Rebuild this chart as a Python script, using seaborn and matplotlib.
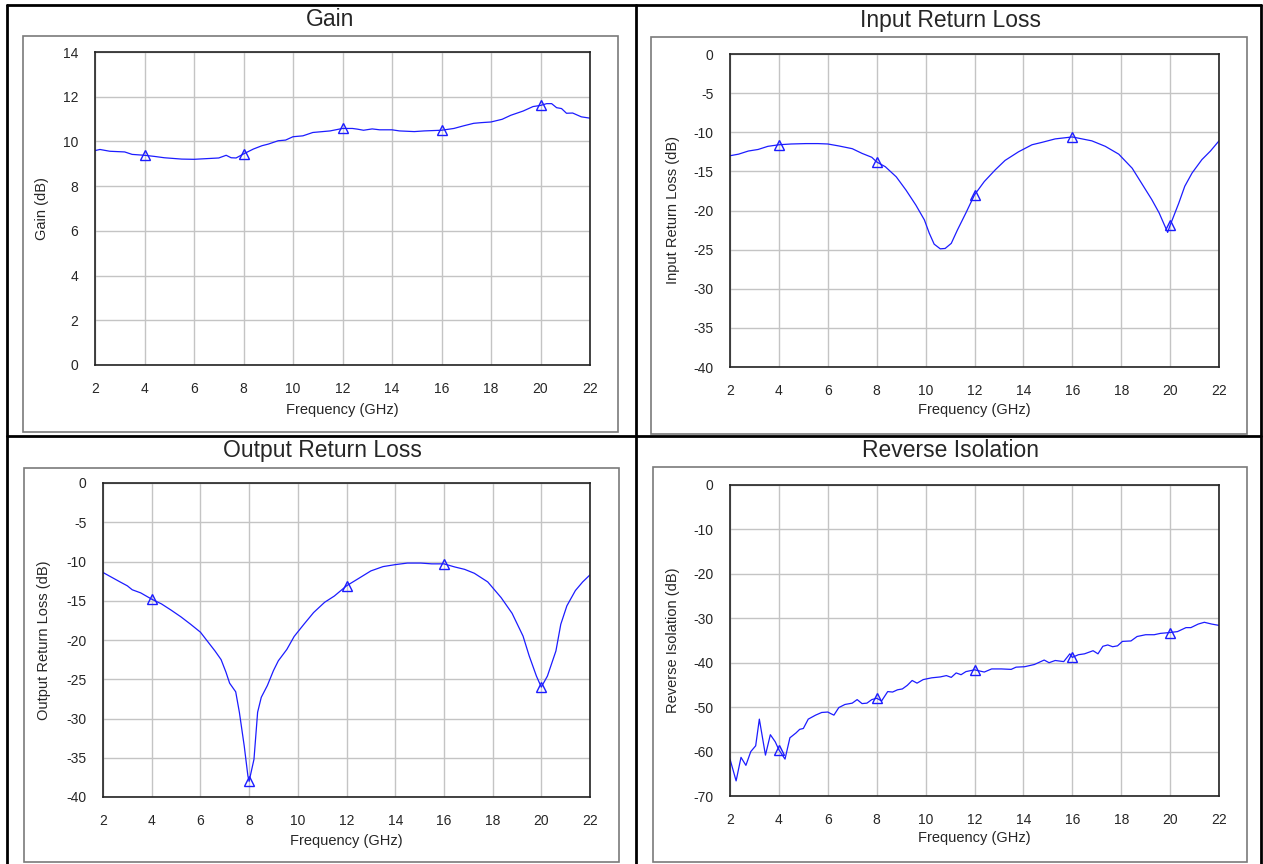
import numpy as np
import pandas as pd
import matplotlib
matplotlib.use("Agg")
import matplotlib.pyplot as plt
from matplotlib.lines import Line2D
from matplotlib.patches import Rectangle
import seaborn as sns

# ---------------- data ----------------
gain_freq = [2.0, 2.2, 2.6, 3.2, 3.5, 4.0, 4.4, 4.8, 5.5, 6.0, 6.5, 7.0, 7.3, 7.5, 7.7,
             8.0, 8.4, 8.75, 9.0, 9.4, 9.7, 10.0, 10.4, 10.8, 11.1, 11.5, 12.0, 12.4,
             12.6, 12.85, 13.2, 13.5, 14.0, 14.3, 14.9, 15.3, 16.0, 16.5, 16.9, 17.3,
             17.6, 18.0, 18.45, 18.8, 19.3, 19.7, 20.0, 20.25, 20.45, 20.65, 20.85,
             21.05, 21.3, 21.65, 22.0]
gain_db = [9.59, 9.64, 9.56, 9.53, 9.42, 9.38, 9.33, 9.27, 9.21, 9.20, 9.23, 9.26, 9.38,
           9.27, 9.26, 9.44, 9.66, 9.81, 9.88, 10.03, 10.06, 10.21, 10.25, 10.40, 10.43,
           10.47, 10.58, 10.58, 10.55, 10.50, 10.56, 10.52, 10.52, 10.47, 10.44, 10.47,
           10.50, 10.58, 10.70, 10.81, 10.84, 10.87, 10.99, 11.17, 11.36, 11.56, 11.61,
           11.69, 11.69, 11.51, 11.47, 11.26, 11.27, 11.10, 11.04]

irl_freq = [2.0, 2.35, 2.75, 3.15, 3.55, 4.0, 4.5, 5.1, 5.6, 6.0, 6.45, 7.0, 7.4, 7.8,
            8.0, 8.35, 8.8, 9.2, 9.6, 9.95, 10.15, 10.35, 10.6, 10.8, 11.05, 11.3,
            11.65, 12.0, 12.4, 12.85, 13.25, 13.8, 14.35, 14.75, 15.3, 16.0, 16.4,
            16.8, 17.35, 17.9, 18.45, 18.85, 19.25, 19.55, 19.9, 20.0, 20.35, 20.6,
            20.9, 21.3, 21.65, 22.0]
irl_db = [-13.0, -12.8, -12.4, -12.2, -11.8, -11.6, -11.5, -11.45, -11.45, -11.5, -11.75,
          -12.1, -12.7, -13.2, -13.8, -14.4, -15.7, -17.4, -19.3, -21.2, -22.9, -24.3,
          -24.9, -24.85, -24.2, -22.5, -20.3, -18.0, -16.3, -14.8, -13.6, -12.5, -11.6,
          -11.3, -10.85, -10.6, -10.85, -11.1, -11.8, -12.8, -14.6, -16.6, -18.6, -20.3,
          -22.8, -21.9, -19.1, -16.9, -15.2, -13.5, -12.4, -11.1]

orl_freq = [2.0, 2.35, 2.7, 3.0, 3.2, 3.55, 4.0, 4.4, 4.8, 5.2, 5.6, 6.0, 6.3, 6.6, 6.85,
            7.05, 7.2, 7.45, 7.6, 7.8, 7.95, 8.0, 8.2, 8.35, 8.5, 8.75, 9.0, 9.2, 9.55,
            9.85, 10.25, 10.65, 11.1, 11.5, 12.0, 12.45, 13.0, 13.5, 14.0, 14.5, 15.05,
            15.5, 16.0, 16.45, 16.85, 17.25, 17.8, 18.35, 18.8, 19.25, 19.5, 19.8, 20.0,
            20.25, 20.6, 20.8, 21.05, 21.4, 21.7, 22.0]
orl_db = [-11.4, -12.0, -12.6, -13.1, -13.6, -14.0, -14.8, -15.4, -16.2, -17.05, -18.0,
          -19.0, -20.2, -21.4, -22.5, -24.1, -25.5, -26.6, -29.2, -33.5, -37.3, -38.0,
          -35.2, -29.2, -27.3, -25.8, -23.9, -22.65, -21.2, -19.55, -18.0, -16.5, -15.2,
          -14.4, -13.1, -12.25, -11.2, -10.65, -10.4, -10.2, -10.2, -10.3, -10.3, -10.7,
          -11.0, -11.5, -12.6, -14.6, -16.6, -19.5, -22.0, -24.6, -26.0, -24.6, -21.4,
          -18.0, -15.65, -13.7, -12.6, -11.7]

ri_freq = [2.0, 2.25, 2.45, 2.65, 2.85, 3.05, 3.2, 3.45, 3.65, 3.85, 4.0, 4.25, 4.45,
           4.7, 4.85, 5.0, 5.2, 5.5, 5.75, 6.0, 6.1, 6.25, 6.45, 6.7, 7.0, 7.2, 7.4,
           7.6, 7.8, 8.0, 8.2, 8.45, 8.65, 8.85, 9.05, 9.25, 9.45, 9.65, 9.9, 10.25,
           10.6, 10.85, 11.05, 11.25, 11.45, 11.65, 12.0, 12.4, 12.7, 13.1, 13.5, 13.7,
           14.05, 14.45, 14.85, 15.05, 15.3, 15.65, 15.9, 16.0, 16.25, 16.5, 16.85,
           17.05, 17.25, 17.45, 17.65, 17.85, 18.05, 18.4, 18.65, 19.0, 19.35, 19.6,
           20.0, 20.3, 20.65, 20.85, 21.15, 21.4, 21.7, 22.0]
ri_db = [-61.7, -66.6, -61.3, -63.1, -60.0, -58.7, -52.7, -60.8, -56.2, -57.8, -59.6,
         -61.7, -56.9, -55.8, -55.0, -54.8, -52.7, -51.8, -51.2, -51.1, -51.4, -51.8,
         -50.1, -49.4, -49.1, -48.3, -49.2, -49.1, -48.3, -48.0, -48.6, -46.5, -46.6,
         -46.1, -45.9, -45.1, -44.0, -44.6, -43.8, -43.4, -43.2, -42.9, -43.3, -42.3,
         -42.7, -42.0, -41.6, -42.1, -41.4, -41.4, -41.5, -41.0, -40.9, -40.4, -39.4,
         -40.0, -39.5, -39.75, -38.0, -38.8, -38.2, -38.0, -37.3, -38.0, -36.3, -36.0,
         -36.4, -36.2, -35.2, -35.1, -34.1, -33.7, -33.7, -33.4, -33.2, -33.0, -32.1,
         -32.1, -31.3, -30.9, -31.3, -31.6]

marker_freqs = [4.0, 8.0, 12.0, 16.0, 20.0]
x_ticks = [2, 4, 6, 8, 10, 12, 14, 16, 18, 20, 22]

titles = ["Gain", "Input Return Loss", "Output Return Loss", "Reverse Isolation"]
ylabels = ["Gain (dB)", "Input Return Loss (dB)", "Output Return Loss (dB)",
           "Reverse Isolation (dB)"]
xlabel = "Frequency (GHz)"
y_ticks = [list(range(0, 15, 2)), list(range(-40, 1, 5)), list(range(-40, 1, 5)),
           list(range(-70, 1, 10))]

# ---------------- style ----------------
sns.set_style("white")
plt.rcParams["font.family"] = ["Liberation Sans", "DejaVu Sans"]
plt.rcParams["axes.unicode_minus"] = False

W, H = 1263, 864
fig = plt.figure(figsize=(W / 100, H / 100), dpi=100)
fig.patch.set_facecolor("white")


def fx(x):
    return x / W


def fy(y):
    return 1 - y / H


def box(x0, y0, x1, y1):
    return [x0 / W, 1 - y1 / H, (x1 - x0) / W, (y1 - y0) / H]


# outer black grid
for (x0, y0, x1, y1) in [(7, 5, 1261, 5), (7, 436, 1261, 436),
                         (7, 5, 7, 864), (636, 5, 636, 864), (1261, 5, 1261, 864)]:
    fig.add_artist(Line2D([fx(x0), fx(x1)], [fy(y0), fy(y1)], color="black",
                          lw=2.0, transform=fig.transFigure))

# inner gray frames
frames = [(23, 36, 618, 432), (651, 37, 1247, 434), (24, 468, 619, 862), (653, 467, 1247, 862)]
for (x0, y0, x1, y1) in frames:
    fig.add_artist(Rectangle((fx(x0), fy(y1)), (x1 - x0) / W, (y1 - y0) / H,
                             fill=False, edgecolor="#7a7a7a", lw=1.2,
                             transform=fig.transFigure))

# titles
title_pos = [(330, 20), (950, 21), (322, 451), (950, 451)]
for t, (x, y) in zip(titles, title_pos):
    fig.text(fx(x), fy(y), t, ha="center", va="center", fontsize=16.5)

axes_px = [(95, 52, 590, 365), (730, 54, 1219, 367), (103, 483, 590, 797), (730, 485, 1219, 796)]
ylabel_x = [42, 673, 44, 673]
xlabel_y = [410, 410, 841, 838]

datasets = [(gain_freq, gain_db), (irl_freq, irl_db), (orl_freq, orl_db), (ri_freq, ri_db)]
blue = "#1c1cff"

for i, ((fr, db), (x0, y0, x1, y1)) in enumerate(zip(datasets, axes_px)):
    ax = fig.add_axes(box(x0, y0, x1, y1))
    df = pd.DataFrame({"freq": fr, "val": db})
    sns.lineplot(data=df, x="freq", y="val", ax=ax, color=blue, lw=0.9,
                 sort=False, estimator=None)
    mk = df[df["freq"].isin(marker_freqs)]
    ax.plot(mk["freq"], mk["val"], linestyle="none", marker="^", markersize=7.5,
            markerfacecolor="none", markeredgecolor=blue, markeredgewidth=1.0)

    yt = y_ticks[i]
    ax.set_xlim(2, 22)
    ax.set_ylim(min(yt), max(yt))
    ax.set_xticks(x_ticks)
    ax.set_yticks(yt)
    ax.set_xticklabels([str(v) for v in x_ticks])
    ax.set_yticklabels([str(v) for v in yt])
    ax.tick_params(axis="both", length=0, labelsize=10, pad=12)
    ax.grid(True, color="#c4c4c4", lw=1.0)
    for s in ax.spines.values():
        s.set_visible(True)
        s.set_color("#222222")
        s.set_linewidth(1.2)

    ax.set_xlabel(xlabel, fontsize=10.5)
    ax.set_ylabel(ylabels[i], fontsize=10.5, va="center")
    wpx = x1 - x0
    hpx = y1 - y0
    ax.yaxis.set_label_coords((ylabel_x[i] - x0) / wpx, 0.5)
    ax.xaxis.set_label_coords(0.5, -(xlabel_y[i] - y1) / hpx)
    ax.xaxis.label.set_va("center")

fig.savefig("out.png", dpi=100, facecolor="white")
